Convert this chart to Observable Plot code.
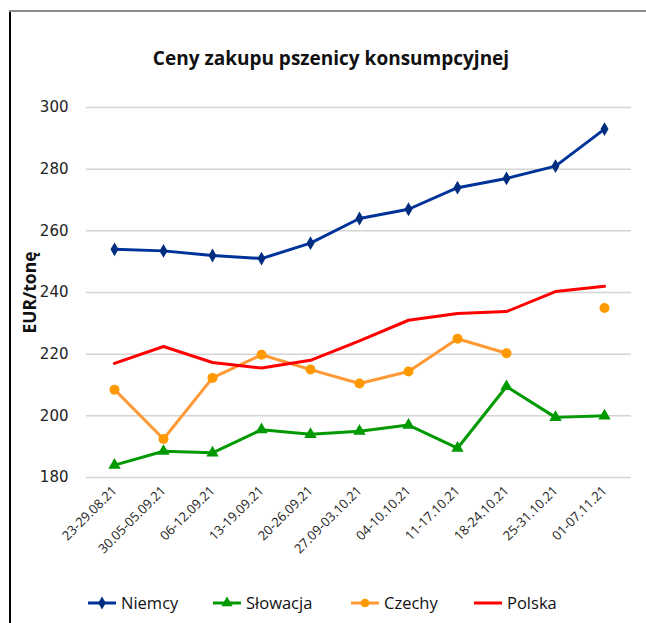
<!DOCTYPE html>
<html><head><meta charset="utf-8">
<script src="https://cdn.jsdelivr.net/npm/d3@7"></script>
<script src="https://cdn.jsdelivr.net/npm/@observablehq/plot@0.6"></script>
<style>
body{margin:0;background:#fff;font-family:"Open Sans",sans-serif;}
#wrap{position:relative;width:646px;height:623px;overflow:hidden;background:#fff;}
.frameL{position:absolute;left:9px;top:11px;width:1.5px;height:620px;background:#000;}
.frameT{position:absolute;left:9px;top:10px;width:640px;height:2px;background:#8c8c8c;}
#title{position:absolute;left:0;top:45px;width:662px;text-align:center;font-weight:bold;font-size:19px;color:#111;}
#chart{position:absolute;left:0;top:80px;}
#legend{position:absolute;left:0;top:580px;}
</style></head><body>
<div id="wrap">
<div class="frameL"></div><div class="frameT"></div>
<div id="title">Ceny zakupu pszenicy konsumpcyjnej</div>
<div id="chart"></div>
<div id="legend"></div>
</div>
<script>
const categories = ["23-29.08.21","30.05-05.09.21","06-12.09.21","13-19.09.21","20-26.09.21","27.09-03.10.21","04-10.10.21","11-17.10.21","18-24.10.21","25-31.10.21","01-07.11.21"];
const niemcy   = [254, 253.5, 252, 251, 256, 264, 267, 274, 277, 281, 293];
const slowacja = [184, 188.5, 188, 195.5, 194, 195, 197, 189.5, 209.5, 199.5, 200];
const czechy   = [208.5, 192.5, 212.3, 219.8, 215, 210.5, 214.4, 225, 220.3, null, 235];
const polska   = [217, 222.5, 217.3, 215.5, 218, 224.3, 231, 233.2, 233.8, 240.3, 242];
const yTicks = [180, 200, 220, 240, 260, 280, 300];
const seriesNames = ["Niemcy", "Słowacja", "Czechy", "Polska"];
const seriesColors = ["#003399", "#009900", "#ff9933", "#ff0000"];
const yLabel = "EUR/tonę";
const FONT = "'Open Sans', sans-serif";

const rows = (vals) => categories.map((c, i) => ({cat: c, v: vals[i] == null ? NaN : vals[i]}));
const dN = rows(niemcy), dS = rows(slowacja), dC = rows(czechy), dP = rows(polska);

const chart = Plot.plot({
  width: 646, height: 500,
  marginLeft: 86, marginRight: 15, marginTop: 27, marginBottom: 103,
  style: {fontFamily: FONT, color: "#222", background: "transparent"},
  x: {type: "point", domain: categories, padding: 0.5, label: null},
  y: {domain: [180, 300], label: null},
  marks: [
    Plot.ruleY(yTicks, {stroke: "#d4d4d4", strokeWidth: 1.5}),
    Plot.axisY({ticks: yTicks, tickSize: 0, tickPadding: 18, fontSize: 15, fontFamily: "'DejaVu Sans', sans-serif", label: null}),
    Plot.axisX({tickRotate: -45, tickSize: 0, tickPadding: 11, fontSize: 13, label: null}),
    Plot.text([yLabel], {frameAnchor: "left", rotate: -90, dx: -56, textAnchor: "middle", lineAnchor: "middle", fontSize: 17.5, fontWeight: "bold", fill: "#111"}),
    Plot.line(dN, {x: "cat", y: "v", stroke: seriesColors[0], strokeWidth: 3}),
    Plot.dot(dN, {x: "cat", y: "v", symbol: "diamond", r: 4.2, fill: "#002d80", stroke: "none"}),
    Plot.line(dS, {x: "cat", y: "v", stroke: seriesColors[1], strokeWidth: 3}),
    Plot.dot(dS, {x: "cat", y: "v", symbol: "triangle", r: 4.6, fill: seriesColors[1], stroke: "none"}),
    Plot.line(dC, {x: "cat", y: "v", stroke: seriesColors[2], strokeWidth: 3}),
    Plot.dot(dC, {x: "cat", y: "v", symbol: "circle", r: 5, fill: "#ff9900", stroke: "none"}),
    Plot.line(dP, {x: "cat", y: "v", stroke: seriesColors[3], strokeWidth: 3})
  ]
});
document.getElementById("chart").appendChild(chart);

// legend
const legendX = [88, 213, 351, 474];
const symbols = [d3.symbolDiamond, d3.symbolTriangle, d3.symbolCircle, null];
const sizes = [50, 55, 60, 0];
const svg = d3.select("#legend").append("svg").attr("width", 646).attr("height", 43);
seriesNames.forEach((name, i) => {
  const g = svg.append("g").attr("transform", `translate(${legendX[i]},23)`);
  g.append("line").attr("x1", 0).attr("x2", 28).attr("stroke", seriesColors[i]).attr("stroke-width", 3);
  if (symbols[i]) g.append("path").attr("d", d3.symbol(symbols[i], sizes[i])()).attr("transform", "translate(14,0)").attr("fill", i === 0 ? "#002d80" : (i === 2 ? "#ff9900" : seriesColors[i]));
  g.append("text").attr("x", 33).attr("dy", "0.35em").attr("font-size", 16.5).attr("fill", "#111").attr("font-family", FONT).text(name);
});
</script>
</body></html>
